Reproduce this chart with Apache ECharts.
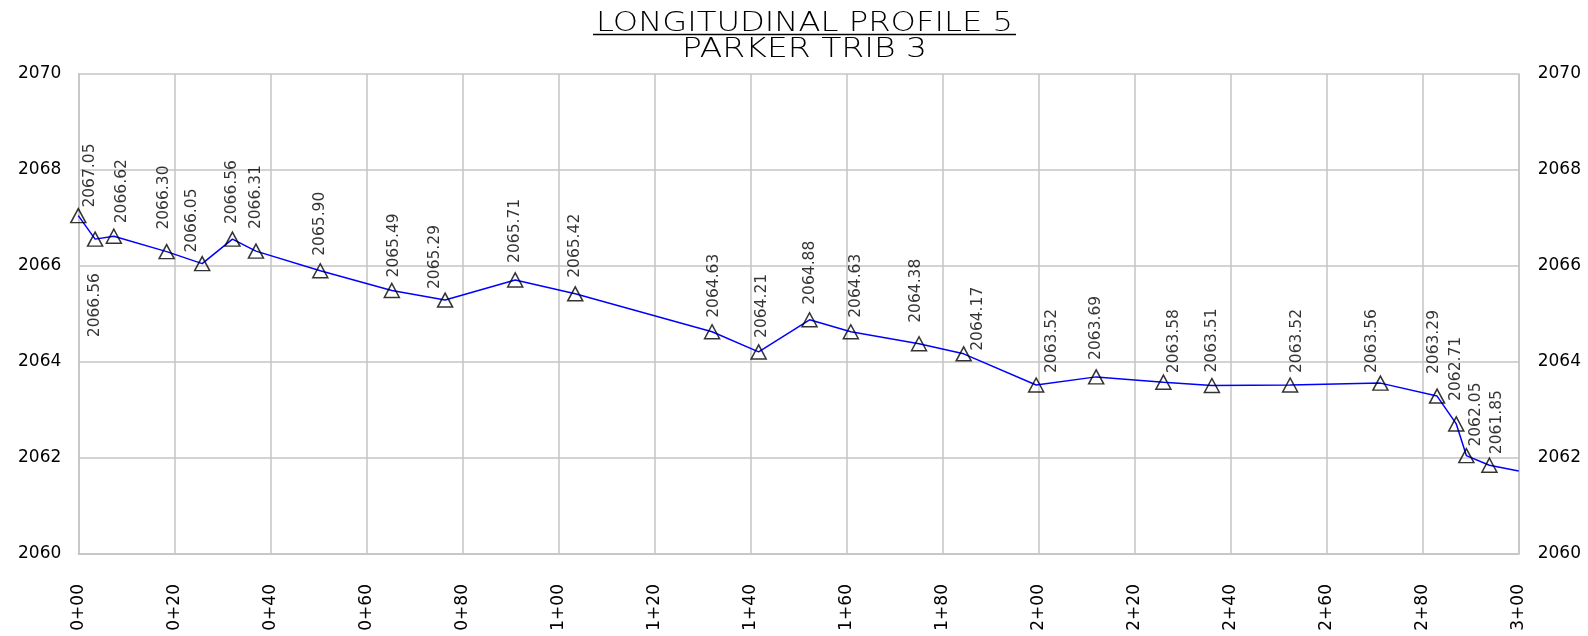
<!DOCTYPE html>
<html>
<head>
<meta charset="utf-8">
<script src="https://cdn.jsdelivr.net/npm/echarts@6/dist/echarts.min.js"></script>
<style>
  html, body { margin: 0; padding: 0; background: #fff; }
  #chart { width: 1588px; height: 636px; }
</style>
</head>
<body>
<div id="chart"></div>
<script>
// ---------------- DATA ----------------
const titleLines = ['LONGITUDINAL PROFILE 5', 'PARKER TRIB 3'];
const stations = [0, 3.5, 7.4, 18.4, 25.8, 32.1, 37.0, 50.4, 65.3, 76.4,
                  91.0, 103.5, 132.0, 141.7, 152.3, 160.9, 175.1, 184.4, 199.5, 212.0,
                  226.0, 236.1, 252.4, 271.2, 283.0, 287.0, 289.1, 293.9];
const elevations = [2067.05, 2066.56, 2066.62, 2066.30, 2066.05, 2066.56, 2066.31, 2065.90, 2065.49, 2065.29,
                    2065.71, 2065.42, 2064.63, 2064.21, 2064.88, 2064.63, 2064.38, 2064.17, 2063.52, 2063.69,
                    2063.58, 2063.51, 2063.52, 2063.56, 2063.29, 2062.71, 2062.05, 2061.85];
const profileEndStation = 300;
const profileEndElevation = 2061.73;
const stationTickLabels = ['0+00', '0+20', '0+40', '0+60', '0+80', '1+00', '1+20', '1+40',
                           '1+60', '1+80', '2+00', '2+20', '2+40', '2+60', '2+80', '3+00'];
const elevationTicks = [2060, 2062, 2064, 2066, 2068, 2070];

// ---------------- LABEL LAYOUT (pixel nudges, not data) ----------------
const labelShift = [12, 0, 8, -3, -10, 0, 0, 0, 2, -10,
                    0, 0, 2, 3, 0, 5, -3, 14, 16, 0,
                    11, 0, 7, -8, -3, 0, 10, 8];
const labelGap = [9, -34, 14, 23, 12, 16, 23, 16, 14, 12,
                  18, 17, 15, 15, 16, 15, 22, 4, 13, 18,
                  10, 14, 13, 11, 23, 24, 10, 12];

// ---------------- BUILD ----------------
const linePoints = stations.map((s, i) => [s, elevations[i]]);
linePoints.push([profileEndStation, profileEndElevation]);

const markerPoints = stations.map((s, i) => {
  const gap = labelGap[i];
  const below = gap < 0;
  return {
    value: [s, elevations[i]],
    label: {
      align: below ? 'right' : 'left',
      offset: [below ? gap : gap - 1, labelShift[i]]
    }
  };
});

const gridLeft = 78.3, gridRight = 69.3, gridTop = 74, gridBottom = 82;
const titleCenterX = 804.5;
const titleFontSize = 27;
const titleTargetWidths = [417, 245];
const titleY = [24.0, 49.8];

const meas = document.createElement('canvas').getContext('2d');
meas.font = '200 ' + titleFontSize + 'px "DejaVu Sans"';
const titleScales = titleLines.map((t, i) => titleTargetWidths[i] / meas.measureText(t).width);

const chart = echarts.init(document.getElementById('chart'), null, { renderer: 'canvas' });
const gridColor = '#c4c4c4';

const titleGraphics = titleLines.map((t, i) => ({
  type: 'text',
  x: titleCenterX,
  y: titleY[i],
  scaleX: titleScales[i],
  silent: true,
  style: {
    text: t,
    fontFamily: 'DejaVu Sans',
    fontWeight: 200,
    fontSize: titleFontSize,
    fill: '#000',
    align: 'center',
    verticalAlign: 'middle'
  }
}));

const option = {
  backgroundColor: '#ffffff',
  animation: false,
  graphic: titleGraphics.concat([{
    type: 'line',
    shape: { x1: 593, y1: 34.5, x2: 1016, y2: 34.5 },
    style: { stroke: '#000', lineWidth: 1.3 },
    silent: true
  }]),
  grid: {
    left: gridLeft, right: gridRight, top: gridTop, bottom: gridBottom,
    containLabel: false,
    outerBoundsMode: 'none'
  },
  xAxis: {
    type: 'value',
    min: 0, max: 300, interval: 20,
    axisLine: { show: true, lineStyle: { color: gridColor, width: 1.5 } },
    axisTick: { show: false },
    splitLine: { show: true, lineStyle: { color: gridColor, width: 1.5 } },
    axisLabel: {
      rotate: 90,
      margin: 30,
      fontFamily: 'DejaVu Sans',
      fontSize: 17,
      color: '#000',
      formatter: v => stationTickLabels[Math.round(v / 20)]
    }
  },
  yAxis: [{
    type: 'value',
    min: elevationTicks[0], max: elevationTicks[elevationTicks.length - 1], interval: 2,
    position: 'left',
    axisLine: { show: true, lineStyle: { color: gridColor, width: 1.5 } },
    axisTick: { show: false },
    splitLine: { show: true, lineStyle: { color: gridColor, width: 1.5 } },
    axisLabel: { margin: 17, fontFamily: 'DejaVu Sans', fontSize: 17, color: '#000',
                 formatter: v => String(elevationTicks[Math.round((v - elevationTicks[0]) / 2)]) }
  }, {
    type: 'value',
    min: elevationTicks[0], max: elevationTicks[elevationTicks.length - 1], interval: 2,
    position: 'right',
    axisLine: { show: true, lineStyle: { color: gridColor, width: 1.5 } },
    axisTick: { show: false },
    splitLine: { show: false },
    axisLabel: { margin: 19, fontFamily: 'DejaVu Sans', fontSize: 17, color: '#000',
                 formatter: v => String(elevationTicks[Math.round((v - elevationTicks[0]) / 2)]) }
  }],
  series: [{
    type: 'line',
    name: 'Profile',
    data: linePoints,
    showSymbol: false,
    symbol: 'none',
    lineStyle: { color: '#0000ff', width: 1.5 },
    itemStyle: { color: '#0000ff' },
    z: 2,
    silent: true
  }, {
    type: 'scatter',
    name: 'Survey points',
    data: markerPoints,
    symbol: 'triangle',
    symbolSize: [15, 14],
    itemStyle: { color: 'rgba(0,0,0,0)', borderColor: '#000', borderWidth: 1.5 },
    label: {
      show: true,
      position: 'inside',
      rotate: 90,
      verticalAlign: 'middle',
      fontFamily: 'DejaVu Sans',
      fontSize: 15.5,
      color: '#000',
      formatter: p => p.value[1].toFixed(2)
    },
    emphasis: { disabled: true },
    z: 3,
    silent: true
  }]
};
chart.setOption(option);
</script>
</body>
</html>
